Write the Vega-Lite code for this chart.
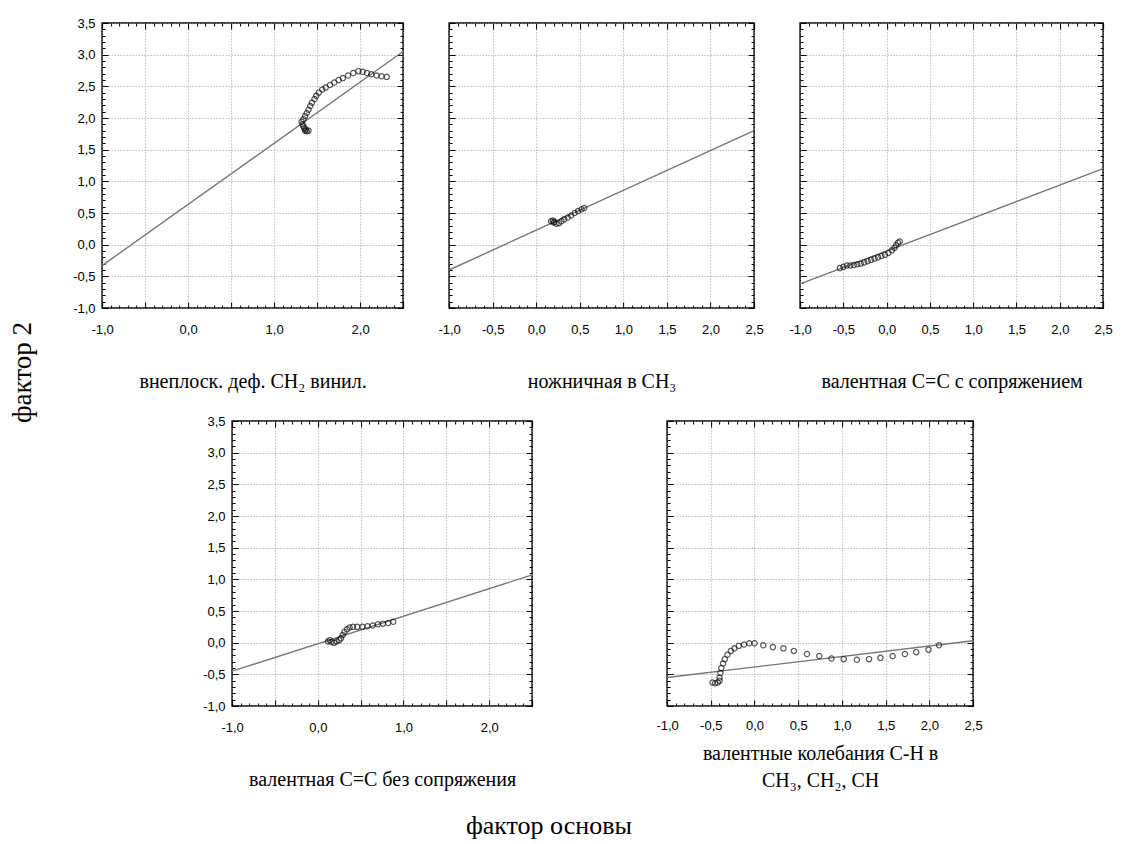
{
"$schema": "https://vega.github.io/schema/vega-lite/v6.json",
"padding": {"left": 8, "top": 16, "right": 5, "bottom": 5},
"background": "white",
"title": {"text": "фактор основы", "orient": "bottom", "anchor": "middle", "font": "Liberation Serif", "fontSize": 26, "fontWeight": "normal", "color": "black", "offset": 22, "dx": -12},
"datasets": {
"pts": [
{"p":1,"x":1.36,"y":1.80},{"p":1,"x":1.38,"y":1.79},{"p":1,"x":1.40,"y":1.80},{"p":1,"x":1.37,"y":1.82},{"p":1,"x":1.35,"y":1.84},{"p":1,"x":1.34,"y":1.87},{"p":1,"x":1.33,"y":1.90},{"p":1,"x":1.32,"y":1.94},{"p":1,"x":1.34,"y":1.98},{"p":1,"x":1.36,"y":2.03},{"p":1,"x":1.38,"y":2.08},{"p":1,"x":1.40,"y":2.13},{"p":1,"x":1.42,"y":2.19},{"p":1,"x":1.44,"y":2.24},{"p":1,"x":1.47,"y":2.30},{"p":1,"x":1.49,"y":2.35},{"p":1,"x":1.52,"y":2.40},{"p":1,"x":1.56,"y":2.45},{"p":1,"x":1.60,"y":2.48},{"p":1,"x":1.65,"y":2.52},{"p":1,"x":1.70,"y":2.56},{"p":1,"x":1.75,"y":2.60},{"p":1,"x":1.80,"y":2.63},{"p":1,"x":1.86,"y":2.67},{"p":1,"x":1.92,"y":2.71},{"p":1,"x":1.98,"y":2.74},{"p":1,"x":2.03,"y":2.73},{"p":1,"x":2.08,"y":2.71},{"p":1,"x":2.13,"y":2.69},{"p":1,"x":2.19,"y":2.67},{"p":1,"x":2.25,"y":2.66},{"p":1,"x":2.31,"y":2.65},
{"p":2,"x":0.17,"y":0.37},{"p":2,"x":0.19,"y":0.38},{"p":2,"x":0.21,"y":0.36},{"p":2,"x":0.20,"y":0.35},{"p":2,"x":0.23,"y":0.33},{"p":2,"x":0.26,"y":0.34},{"p":2,"x":0.29,"y":0.37},{"p":2,"x":0.32,"y":0.40},{"p":2,"x":0.36,"y":0.43},{"p":2,"x":0.40,"y":0.46},{"p":2,"x":0.44,"y":0.50},{"p":2,"x":0.48,"y":0.53},{"p":2,"x":0.52,"y":0.56},{"p":2,"x":0.55,"y":0.58},
{"p":3,"x":-0.54,"y":-0.37},{"p":3,"x":-0.50,"y":-0.35},{"p":3,"x":-0.46,"y":-0.33},{"p":3,"x":-0.42,"y":-0.33},{"p":3,"x":-0.38,"y":-0.32},{"p":3,"x":-0.34,"y":-0.31},{"p":3,"x":-0.30,"y":-0.30},{"p":3,"x":-0.26,"y":-0.28},{"p":3,"x":-0.22,"y":-0.26},{"p":3,"x":-0.18,"y":-0.24},{"p":3,"x":-0.14,"y":-0.22},{"p":3,"x":-0.10,"y":-0.20},{"p":3,"x":-0.06,"y":-0.18},{"p":3,"x":-0.02,"y":-0.16},{"p":3,"x":0.02,"y":-0.13},{"p":3,"x":0.06,"y":-0.09},{"p":3,"x":0.09,"y":-0.05},{"p":3,"x":0.11,"y":-0.01},{"p":3,"x":0.13,"y":0.03},{"p":3,"x":0.15,"y":0.05},
{"p":4,"x":0.12,"y":0.02},{"p":4,"x":0.14,"y":0.04},{"p":4,"x":0.16,"y":0.01},{"p":4,"x":0.19,"y":0.00},{"p":4,"x":0.22,"y":0.02},{"p":4,"x":0.25,"y":0.04},{"p":4,"x":0.27,"y":0.07},{"p":4,"x":0.29,"y":0.12},{"p":4,"x":0.31,"y":0.17},{"p":4,"x":0.34,"y":0.21},{"p":4,"x":0.37,"y":0.24},{"p":4,"x":0.41,"y":0.25},{"p":4,"x":0.46,"y":0.25},{"p":4,"x":0.52,"y":0.25},{"p":4,"x":0.58,"y":0.26},{"p":4,"x":0.64,"y":0.27},{"p":4,"x":0.70,"y":0.29},{"p":4,"x":0.76,"y":0.30},{"p":4,"x":0.82,"y":0.31},{"p":4,"x":0.88,"y":0.33},
{"p":5,"x":-0.48,"y":-0.63},{"p":5,"x":-0.45,"y":-0.64},{"p":5,"x":-0.42,"y":-0.63},{"p":5,"x":-0.40,"y":-0.60},{"p":5,"x":-0.40,"y":-0.55},{"p":5,"x":-0.39,"y":-0.48},{"p":5,"x":-0.38,"y":-0.40},{"p":5,"x":-0.36,"y":-0.33},{"p":5,"x":-0.34,"y":-0.26},{"p":5,"x":-0.31,"y":-0.19},{"p":5,"x":-0.27,"y":-0.13},{"p":5,"x":-0.23,"y":-0.09},{"p":5,"x":-0.18,"y":-0.05},{"p":5,"x":-0.12,"y":-0.03},{"p":5,"x":-0.06,"y":-0.01},{"p":5,"x":0.00,"y":-0.01},{"p":5,"x":0.10,"y":-0.04},{"p":5,"x":0.21,"y":-0.07},{"p":5,"x":0.33,"y":-0.09},{"p":5,"x":0.45,"y":-0.13},{"p":5,"x":0.60,"y":-0.18},{"p":5,"x":0.74,"y":-0.21},{"p":5,"x":0.88,"y":-0.25},{"p":5,"x":1.02,"y":-0.26},{"p":5,"x":1.17,"y":-0.27},{"p":5,"x":1.31,"y":-0.26},{"p":5,"x":1.44,"y":-0.24},{"p":5,"x":1.58,"y":-0.21},{"p":5,"x":1.72,"y":-0.18},{"p":5,"x":1.85,"y":-0.15},{"p":5,"x":1.99,"y":-0.11},{"p":5,"x":2.11,"y":-0.04}
],
"lines": [
{"p":1,"x":-1,"y":-0.33},{"p":1,"x":2.5,"y":3.05},
{"p":2,"x":-1,"y":-0.40},{"p":2,"x":2.5,"y":1.80},
{"p":3,"x":-1,"y":-0.62},{"p":3,"x":2.5,"y":1.20},
{"p":4,"x":-1,"y":-0.45},{"p":4,"x":2.5,"y":1.07},
{"p":5,"x":-1,"y":-0.55},{"p":5,"x":2.5,"y":0.03}
]
},
"vconcat": [
{"title": {"text": "фактор 2", "orient": "left", "anchor": "middle", "font": "Liberation Serif", "fontSize": 27, "fontWeight": "normal", "color": "black", "offset": 35, "dx": 31},
 "vconcat": [
{"hconcat": [
{"width": 301, "height": 285,
 "layer": [
  {"data": {"name": "lines"}, "transform": [{"filter": "datum.p == 1"}],
   "mark": {"type": "line", "color": "#777777", "strokeWidth": 1.4},
   "encoding": {
    "x": {"field": "x", "type": "quantitative", "scale": {"domain": [-1, 2.5], "nice": false, "zero": false},
      "axis": {"orient": "bottom", "values": [-1,-0.9,-0.8,-0.7,-0.6,-0.5,-0.4,-0.3,-0.2,-0.1,0,0.1,0.2,0.3,0.4,0.5,0.6,0.7,0.8,0.9,1,1.1,1.2,1.3,1.4,1.5,1.6,1.7,1.8,1.9,2,2.1,2.2,2.3,2.4,2.5],
       "grid": true, "gridOpacity": {"condition": {"test": "abs(datum.value*2-round(datum.value*2))<0.01", "value": 1}, "value": 0},
       "tickSize": {"condition": {"test": "abs(datum.value*2-round(datum.value*2))<0.01", "value": -6}, "value": -3},
       "labelExpr": "abs(datum.value-round(datum.value))<0.01 ? replace(replace(format(datum.value,'.1f'),'.',','),'\u2212','-') : ''",
       "labelPadding": 21,
       "title": "внеплоск. деф. CH₂ винил.", "titleFontSize": 20, "titlePadding": 32}},
    "y": {"field": "y", "type": "quantitative", "scale": {"domain": [-1, 3.5], "nice": false, "zero": false},
      "axis": {"orient": "left", "values": [-1,-0.9,-0.8,-0.7,-0.6,-0.5,-0.4,-0.3,-0.2,-0.1,0,0.1,0.2,0.3,0.4,0.5,0.6,0.7,0.8,0.9,1,1.1,1.2,1.3,1.4,1.5,1.6,1.7,1.8,1.9,2,2.1,2.2,2.3,2.4,2.5,2.6,2.7,2.8,2.9,3,3.1,3.2,3.3,3.4,3.5],
       "grid": true, "gridOpacity": {"condition": {"test": "abs(datum.value*2-round(datum.value*2))<0.01", "value": 1}, "value": 0},
       "tickSize": {"condition": {"test": "abs(datum.value*2-round(datum.value*2))<0.01", "value": -6}, "value": -3},
       "labelExpr": "abs(datum.value*2-round(datum.value*2))<0.01 ? replace(replace(format(datum.value,'.1f'),'.',','),'\u2212','-') : ''",
       "labelPadding": 13, "title": null}}
   }},
  {"data": {"name": "pts"}, "transform": [{"filter": "datum.p == 1"}],
   "mark": {"type": "point", "filled": false, "stroke": "#111", "strokeWidth": 1.2, "size": 28},
   "encoding": {
    "x": {"field": "x", "type": "quantitative", "axis": {"orient": "top", "values": [-1,-0.9,-0.8,-0.7,-0.6,-0.5,-0.4,-0.3,-0.2,-0.1,0,0.1,0.2,0.3,0.4,0.5,0.6,0.7,0.8,0.9,1,1.1,1.2,1.3,1.4,1.5,1.6,1.7,1.8,1.9,2,2.1,2.2,2.3,2.4,2.5], "labels": false, "grid": false, "title": null, "tickSize": {"condition": {"test": "abs(datum.value*2-round(datum.value*2))<0.01", "value": -6}, "value": -3}}},
    "y": {"field": "y", "type": "quantitative", "axis": {"orient": "right", "values": [-1,-0.9,-0.8,-0.7,-0.6,-0.5,-0.4,-0.3,-0.2,-0.1,0,0.1,0.2,0.3,0.4,0.5,0.6,0.7,0.8,0.9,1,1.1,1.2,1.3,1.4,1.5,1.6,1.7,1.8,1.9,2,2.1,2.2,2.3,2.4,2.5,2.6,2.7,2.8,2.9,3,3.1,3.2,3.3,3.4,3.5], "labels": false, "grid": false, "title": null, "tickSize": {"condition": {"test": "abs(datum.value*2-round(datum.value*2))<0.01", "value": -6}, "value": -3}}}
   }}
 ],
 "resolve": {"axis": {"x": "independent", "y": "independent"}}
},
{"width": 305, "height": 285,
 "layer": [
  {"data": {"name": "lines"}, "transform": [{"filter": "datum.p == 2"}],
   "mark": {"type": "line", "color": "#777777", "strokeWidth": 1.4},
   "encoding": {
    "x": {"field": "x", "type": "quantitative", "scale": {"domain": [-1, 2.5], "nice": false, "zero": false},
      "axis": {"orient": "bottom", "values": [-1,-0.9,-0.8,-0.7,-0.6,-0.5,-0.4,-0.3,-0.2,-0.1,0,0.1,0.2,0.3,0.4,0.5,0.6,0.7,0.8,0.9,1,1.1,1.2,1.3,1.4,1.5,1.6,1.7,1.8,1.9,2,2.1,2.2,2.3,2.4,2.5],
       "grid": true, "gridOpacity": {"condition": {"test": "abs(datum.value*2-round(datum.value*2))<0.01", "value": 1}, "value": 0},
       "tickSize": {"condition": {"test": "abs(datum.value*2-round(datum.value*2))<0.01", "value": -6}, "value": -3},
       "labelExpr": "abs(datum.value*2-round(datum.value*2))<0.01 ? replace(replace(format(datum.value,'.1f'),'.',','),'\u2212','-') : ''",
       "labelPadding": 21,
       "title": "ножничная в CH₃", "titleFontSize": 20, "titlePadding": 32}},
    "y": {"field": "y", "type": "quantitative", "scale": {"domain": [-1, 3.5], "nice": false, "zero": false},
      "axis": {"orient": "left", "values": [-1,-0.9,-0.8,-0.7,-0.6,-0.5,-0.4,-0.3,-0.2,-0.1,0,0.1,0.2,0.3,0.4,0.5,0.6,0.7,0.8,0.9,1,1.1,1.2,1.3,1.4,1.5,1.6,1.7,1.8,1.9,2,2.1,2.2,2.3,2.4,2.5,2.6,2.7,2.8,2.9,3,3.1,3.2,3.3,3.4,3.5],
       "grid": true, "gridOpacity": {"condition": {"test": "abs(datum.value*2-round(datum.value*2))<0.01", "value": 1}, "value": 0},
       "tickSize": {"condition": {"test": "abs(datum.value*2-round(datum.value*2))<0.01", "value": -6}, "value": -3},
       "labels": false, "title": null}}
   }},
  {"data": {"name": "pts"}, "transform": [{"filter": "datum.p == 2"}],
   "mark": {"type": "point", "filled": false, "stroke": "#111", "strokeWidth": 1.2, "size": 28},
   "encoding": {
    "x": {"field": "x", "type": "quantitative", "axis": {"orient": "top", "values": [-1,-0.9,-0.8,-0.7,-0.6,-0.5,-0.4,-0.3,-0.2,-0.1,0,0.1,0.2,0.3,0.4,0.5,0.6,0.7,0.8,0.9,1,1.1,1.2,1.3,1.4,1.5,1.6,1.7,1.8,1.9,2,2.1,2.2,2.3,2.4,2.5], "labels": false, "grid": false, "title": null, "tickSize": {"condition": {"test": "abs(datum.value*2-round(datum.value*2))<0.01", "value": -6}, "value": -3}}},
    "y": {"field": "y", "type": "quantitative", "axis": {"orient": "right", "values": [-1,-0.9,-0.8,-0.7,-0.6,-0.5,-0.4,-0.3,-0.2,-0.1,0,0.1,0.2,0.3,0.4,0.5,0.6,0.7,0.8,0.9,1,1.1,1.2,1.3,1.4,1.5,1.6,1.7,1.8,1.9,2,2.1,2.2,2.3,2.4,2.5,2.6,2.7,2.8,2.9,3,3.1,3.2,3.3,3.4,3.5], "labels": false, "grid": false, "title": null, "tickSize": {"condition": {"test": "abs(datum.value*2-round(datum.value*2))<0.01", "value": -6}, "value": -3}}}
   }}
 ],
 "resolve": {"axis": {"x": "independent", "y": "independent"}}
},
{"width": 303, "height": 285,
 "layer": [
  {"data": {"name": "lines"}, "transform": [{"filter": "datum.p == 3"}],
   "mark": {"type": "line", "color": "#777777", "strokeWidth": 1.4},
   "encoding": {
    "x": {"field": "x", "type": "quantitative", "scale": {"domain": [-1, 2.5], "nice": false, "zero": false},
      "axis": {"orient": "bottom", "values": [-1,-0.9,-0.8,-0.7,-0.6,-0.5,-0.4,-0.3,-0.2,-0.1,0,0.1,0.2,0.3,0.4,0.5,0.6,0.7,0.8,0.9,1,1.1,1.2,1.3,1.4,1.5,1.6,1.7,1.8,1.9,2,2.1,2.2,2.3,2.4,2.5],
       "grid": true, "gridOpacity": {"condition": {"test": "abs(datum.value*2-round(datum.value*2))<0.01", "value": 1}, "value": 0},
       "tickSize": {"condition": {"test": "abs(datum.value*2-round(datum.value*2))<0.01", "value": -6}, "value": -3},
       "labelExpr": "abs(datum.value*2-round(datum.value*2))<0.01 ? replace(replace(format(datum.value,'.1f'),'.',','),'\u2212','-') : ''",
       "labelPadding": 21,
       "title": "валентная С=С с сопряжением", "titleFontSize": 20, "titlePadding": 32}},
    "y": {"field": "y", "type": "quantitative", "scale": {"domain": [-1, 3.5], "nice": false, "zero": false},
      "axis": {"orient": "left", "values": [-1,-0.9,-0.8,-0.7,-0.6,-0.5,-0.4,-0.3,-0.2,-0.1,0,0.1,0.2,0.3,0.4,0.5,0.6,0.7,0.8,0.9,1,1.1,1.2,1.3,1.4,1.5,1.6,1.7,1.8,1.9,2,2.1,2.2,2.3,2.4,2.5,2.6,2.7,2.8,2.9,3,3.1,3.2,3.3,3.4,3.5],
       "grid": true, "gridOpacity": {"condition": {"test": "abs(datum.value*2-round(datum.value*2))<0.01", "value": 1}, "value": 0},
       "tickSize": {"condition": {"test": "abs(datum.value*2-round(datum.value*2))<0.01", "value": -6}, "value": -3},
       "labels": false, "title": null}}
   }},
  {"data": {"name": "pts"}, "transform": [{"filter": "datum.p == 3"}],
   "mark": {"type": "point", "filled": false, "stroke": "#111", "strokeWidth": 1.2, "size": 28},
   "encoding": {
    "x": {"field": "x", "type": "quantitative", "axis": {"orient": "top", "values": [-1,-0.9,-0.8,-0.7,-0.6,-0.5,-0.4,-0.3,-0.2,-0.1,0,0.1,0.2,0.3,0.4,0.5,0.6,0.7,0.8,0.9,1,1.1,1.2,1.3,1.4,1.5,1.6,1.7,1.8,1.9,2,2.1,2.2,2.3,2.4,2.5], "labels": false, "grid": false, "title": null, "tickSize": {"condition": {"test": "abs(datum.value*2-round(datum.value*2))<0.01", "value": -6}, "value": -3}}},
    "y": {"field": "y", "type": "quantitative", "axis": {"orient": "right", "values": [-1,-0.9,-0.8,-0.7,-0.6,-0.5,-0.4,-0.3,-0.2,-0.1,0,0.1,0.2,0.3,0.4,0.5,0.6,0.7,0.8,0.9,1,1.1,1.2,1.3,1.4,1.5,1.6,1.7,1.8,1.9,2,2.1,2.2,2.3,2.4,2.5,2.6,2.7,2.8,2.9,3,3.1,3.2,3.3,3.4,3.5], "labels": false, "grid": false, "title": null, "tickSize": {"condition": {"test": "abs(datum.value*2-round(datum.value*2))<0.01", "value": -6}, "value": -3}}}
   }}
 ],
 "resolve": {"axis": {"x": "independent", "y": "independent"}}
}
], "spacing": 46, "bounds": "flush"},
{"hconcat": [
{"width": 300, "height": 285,
 "layer": [
  {"data": {"name": "lines"}, "transform": [{"filter": "datum.p == 4"}],
   "mark": {"type": "line", "color": "#777777", "strokeWidth": 1.4},
   "encoding": {
    "x": {"field": "x", "type": "quantitative", "scale": {"domain": [-1, 2.5], "nice": false, "zero": false},
      "axis": {"orient": "bottom", "values": [-1,-0.9,-0.8,-0.7,-0.6,-0.5,-0.4,-0.3,-0.2,-0.1,0,0.1,0.2,0.3,0.4,0.5,0.6,0.7,0.8,0.9,1,1.1,1.2,1.3,1.4,1.5,1.6,1.7,1.8,1.9,2,2.1,2.2,2.3,2.4,2.5],
       "grid": true, "gridOpacity": {"condition": {"test": "abs(datum.value*2-round(datum.value*2))<0.01", "value": 1}, "value": 0},
       "tickSize": {"condition": {"test": "abs(datum.value*2-round(datum.value*2))<0.01", "value": -6}, "value": -3},
       "labelExpr": "abs(datum.value-round(datum.value))<0.01 ? replace(replace(format(datum.value,'.1f'),'.',','),'\u2212','-') : ''",
       "labelPadding": 21,
       "title": "валентная С=С без сопряжения", "titleFontSize": 20, "titlePadding": 32}},
    "y": {"field": "y", "type": "quantitative", "scale": {"domain": [-1, 3.5], "nice": false, "zero": false},
      "axis": {"orient": "left", "values": [-1,-0.9,-0.8,-0.7,-0.6,-0.5,-0.4,-0.3,-0.2,-0.1,0,0.1,0.2,0.3,0.4,0.5,0.6,0.7,0.8,0.9,1,1.1,1.2,1.3,1.4,1.5,1.6,1.7,1.8,1.9,2,2.1,2.2,2.3,2.4,2.5,2.6,2.7,2.8,2.9,3,3.1,3.2,3.3,3.4,3.5],
       "grid": true, "gridOpacity": {"condition": {"test": "abs(datum.value*2-round(datum.value*2))<0.01", "value": 1}, "value": 0},
       "tickSize": {"condition": {"test": "abs(datum.value*2-round(datum.value*2))<0.01", "value": -6}, "value": -3},
       "labelExpr": "abs(datum.value*2-round(datum.value*2))<0.01 ? replace(replace(format(datum.value,'.1f'),'.',','),'\u2212','-') : ''",
       "labelPadding": 13, "title": null}}
   }},
  {"data": {"name": "pts"}, "transform": [{"filter": "datum.p == 4"}],
   "mark": {"type": "point", "filled": false, "stroke": "#111", "strokeWidth": 1.2, "size": 28},
   "encoding": {
    "x": {"field": "x", "type": "quantitative", "axis": {"orient": "top", "values": [-1,-0.9,-0.8,-0.7,-0.6,-0.5,-0.4,-0.3,-0.2,-0.1,0,0.1,0.2,0.3,0.4,0.5,0.6,0.7,0.8,0.9,1,1.1,1.2,1.3,1.4,1.5,1.6,1.7,1.8,1.9,2,2.1,2.2,2.3,2.4,2.5], "labels": false, "grid": false, "title": null, "tickSize": {"condition": {"test": "abs(datum.value*2-round(datum.value*2))<0.01", "value": -6}, "value": -3}}},
    "y": {"field": "y", "type": "quantitative", "axis": {"orient": "right", "values": [-1,-0.9,-0.8,-0.7,-0.6,-0.5,-0.4,-0.3,-0.2,-0.1,0,0.1,0.2,0.3,0.4,0.5,0.6,0.7,0.8,0.9,1,1.1,1.2,1.3,1.4,1.5,1.6,1.7,1.8,1.9,2,2.1,2.2,2.3,2.4,2.5,2.6,2.7,2.8,2.9,3,3.1,3.2,3.3,3.4,3.5], "labels": false, "grid": false, "title": null, "tickSize": {"condition": {"test": "abs(datum.value*2-round(datum.value*2))<0.01", "value": -6}, "value": -3}}}
   }}
 ],
 "resolve": {"axis": {"x": "independent", "y": "independent"}}
},
{"width": 306, "height": 285,
 "layer": [
  {"data": {"name": "lines"}, "transform": [{"filter": "datum.p == 5"}],
   "mark": {"type": "line", "color": "#777777", "strokeWidth": 1.4},
   "encoding": {
    "x": {"field": "x", "type": "quantitative", "scale": {"domain": [-1, 2.5], "nice": false, "zero": false},
      "axis": {"orient": "bottom", "values": [-1,-0.9,-0.8,-0.7,-0.6,-0.5,-0.4,-0.3,-0.2,-0.1,0,0.1,0.2,0.3,0.4,0.5,0.6,0.7,0.8,0.9,1,1.1,1.2,1.3,1.4,1.5,1.6,1.7,1.8,1.9,2,2.1,2.2,2.3,2.4,2.5],
       "grid": true, "gridOpacity": {"condition": {"test": "abs(datum.value*2-round(datum.value*2))<0.01", "value": 1}, "value": 0},
       "tickSize": {"condition": {"test": "abs(datum.value*2-round(datum.value*2))<0.01", "value": -6}, "value": -3},
       "labelExpr": "abs(datum.value*2-round(datum.value*2))<0.01 ? replace(replace(format(datum.value,'.1f'),'.',','),'\u2212','-') : ''",
       "labelPadding": 19,
       "title": ["валентные колебания С-Н в", "CH₃, CH₂, CH"], "titleFontSize": 20, "titleLineHeight": 27, "titlePadding": 8}},
    "y": {"field": "y", "type": "quantitative", "scale": {"domain": [-1, 3.5], "nice": false, "zero": false},
      "axis": {"orient": "left", "values": [-1,-0.9,-0.8,-0.7,-0.6,-0.5,-0.4,-0.3,-0.2,-0.1,0,0.1,0.2,0.3,0.4,0.5,0.6,0.7,0.8,0.9,1,1.1,1.2,1.3,1.4,1.5,1.6,1.7,1.8,1.9,2,2.1,2.2,2.3,2.4,2.5,2.6,2.7,2.8,2.9,3,3.1,3.2,3.3,3.4,3.5],
       "grid": true, "gridOpacity": {"condition": {"test": "abs(datum.value*2-round(datum.value*2))<0.01", "value": 1}, "value": 0},
       "tickSize": {"condition": {"test": "abs(datum.value*2-round(datum.value*2))<0.01", "value": -6}, "value": -3},
       "labels": false, "title": null}}
   }},
  {"data": {"name": "pts"}, "transform": [{"filter": "datum.p == 5"}],
   "mark": {"type": "point", "filled": false, "stroke": "#111", "strokeWidth": 1.2, "size": 28},
   "encoding": {
    "x": {"field": "x", "type": "quantitative", "axis": {"orient": "top", "values": [-1,-0.9,-0.8,-0.7,-0.6,-0.5,-0.4,-0.3,-0.2,-0.1,0,0.1,0.2,0.3,0.4,0.5,0.6,0.7,0.8,0.9,1,1.1,1.2,1.3,1.4,1.5,1.6,1.7,1.8,1.9,2,2.1,2.2,2.3,2.4,2.5], "labels": false, "grid": false, "title": null, "tickSize": {"condition": {"test": "abs(datum.value*2-round(datum.value*2))<0.01", "value": -6}, "value": -3}}},
    "y": {"field": "y", "type": "quantitative", "axis": {"orient": "right", "values": [-1,-0.9,-0.8,-0.7,-0.6,-0.5,-0.4,-0.3,-0.2,-0.1,0,0.1,0.2,0.3,0.4,0.5,0.6,0.7,0.8,0.9,1,1.1,1.2,1.3,1.4,1.5,1.6,1.7,1.8,1.9,2,2.1,2.2,2.3,2.4,2.5,2.6,2.7,2.8,2.9,3,3.1,3.2,3.3,3.4,3.5], "labels": false, "grid": false, "title": null, "tickSize": {"condition": {"test": "abs(datum.value*2-round(datum.value*2))<0.01", "value": -6}, "value": -3}}}
   }}
 ],
 "resolve": {"axis": {"x": "independent", "y": "independent"}}
}
], "spacing": 135, "bounds": "flush"}
 ], "spacing": 22, "center": true}
],
"config": {
 "view": {"stroke": "black", "strokeWidth": 1.5},
 "axis": {"domain": false, "ticks": true, "tickColor": "black", "tickWidth": 1, "labelFont": "Liberation Sans", "labelFontSize": 13, "labelColor": "black", "labelFlush": false, "labelOverlap": false, "labelBound": false, "gridColor": "#999999", "gridDash": [1, 2], "gridWidth": 1, "titleFont": "Liberation Serif", "titleFontWeight": "normal", "titleColor": "black"}
}
}
